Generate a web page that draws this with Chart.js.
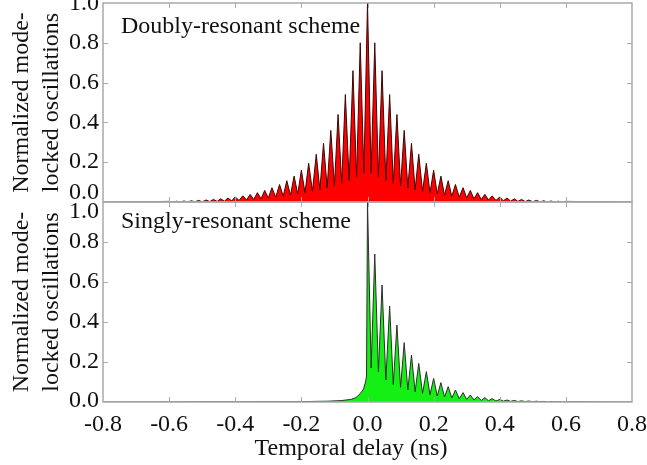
<!DOCTYPE html>
<html>
<head>
<meta charset="utf-8">
<script src="https://cdn.jsdelivr.net/npm/chart.js@4.4.0/dist/chart.umd.min.js"></script>
<style>
  html, body { margin: 0; padding: 0; background: #fff; }
  #wrap { position: relative; width: 647px; height: 465px; }
  .panel { position: absolute; left: 0; width: 647px; }
  #top { top: 0; height: 204px; }
  #bottom { top: 200px; height: 265px; }
</style>
</head>
<body>
<div id="wrap">
  <div class="panel" id="top"><canvas id="doubly"></canvas></div>
  <div class="panel" id="bottom"><canvas id="singly"></canvas></div>
</div>
<script>
// axis ticks
const delayTicks = [-0.8, -0.6, -0.4, -0.2, 0.0, 0.2, 0.4, 0.6, 0.8];
const levelTicks = [0.0, 0.2, 0.4, 0.6, 0.8, 1.0];

// pulse positions (ns)
const pulseDelay = [-0.599, -0.577, -0.555, -0.533, -0.511, -0.488, -0.466, -0.444, -0.422, -0.400,
  -0.377, -0.355, -0.333, -0.311, -0.289, -0.266, -0.244, -0.222, -0.200, -0.178,
  -0.155, -0.133, -0.111, -0.089, -0.067, -0.044, -0.022, 0.000,
  0.022, 0.044, 0.067, 0.089, 0.111, 0.133, 0.155, 0.178, 0.200, 0.222,
  0.244, 0.266, 0.289, 0.311, 0.333, 0.355, 0.377, 0.400, 0.422, 0.444,
  0.466, 0.488, 0.511, 0.533, 0.555, 0.577, 0.599];

// doubly-resonant: peak heights and the dips between neighbouring peaks
const doublyPeak = [0.003, 0.004, 0.005, 0.006, 0.008, 0.010, 0.013, 0.016, 0.020, 0.025,
  0.031, 0.038, 0.047, 0.058, 0.072, 0.088, 0.107, 0.130, 0.160, 0.195,
  0.240, 0.295, 0.360, 0.440, 0.540, 0.660, 0.800, 1.000,
  0.800, 0.660, 0.540, 0.440, 0.360, 0.295, 0.240, 0.195, 0.160, 0.130,
  0.107, 0.088, 0.072, 0.058, 0.047, 0.038, 0.031, 0.025, 0.020, 0.016,
  0.013, 0.010, 0.008, 0.006, 0.005, 0.004, 0.003];
const doublyDip = [0, 0, 0, 0.001, 0.001, 0.002, 0.003, 0.004, 0.006, 0.008,
  0.010, 0.013, 0.016, 0.020, 0.024, 0.029, 0.034, 0.040, 0.046, 0.054,
  0.062, 0.071, 0.082, 0.094, 0.108, 0.125, 0.145,
  0.145, 0.125, 0.108, 0.094, 0.082, 0.071, 0.062, 0.054, 0.046, 0.040,
  0.034, 0.029, 0.024, 0.020, 0.016, 0.013, 0.010, 0.008, 0.006, 0.004,
  0.003, 0.002, 0.001, 0.001, 0, 0, 0];

// singly-resonant: slow rise before zero, then a one-sided comb
const riseDelay = [-0.8, -0.4, -0.2, -0.12, -0.08, -0.05, -0.035, -0.022, -0.012, -0.006, -0.003];
const riseLevel = [0, 0.001, 0.002, 0.004, 0.007, 0.013, 0.022, 0.042, 0.065, 0.100, 0.130];
const singlyPeak = [1.000, 0.740, 0.585, 0.480, 0.385, 0.297, 0.235, 0.193, 0.152, 0.118,
  0.097, 0.077, 0.060, 0.047, 0.035, 0.027, 0.022, 0.017, 0.013, 0.010,
  0.008, 0.006, 0.005, 0.004, 0.003, 0.002, 0.002, 0.001];
const singlyDip = [0.170, 0.150, 0.110, 0.087, 0.073, 0.060, 0.051, 0.043, 0.036, 0.030,
  0.025, 0.020, 0.016, 0.013, 0.010, 0.008, 0.006, 0.005, 0.004, 0.003,
  0.002, 0.002, 0.001, 0.001, 0, 0, 0];

const FONT = '"Liberation Serif", "Times New Roman", serif';

// peak, dip, peak, dip ... (dip sits half way between two pulses)
function comb(delays, peaks, dips) {
  const pts = [];
  delays.forEach((d, i) => {
    pts.push({ x: d, y: peaks[i] });
    if (i < dips.length) pts.push({ x: (d + delays[i + 1]) / 2, y: dips[i] });
  });
  return pts;
}

const doublyData = [{ x: -0.8, y: 0 }, ...comb(pulseDelay, doublyPeak, doublyDip), { x: 0.8, y: 0 }];
const singlyData = [
  ...riseDelay.map((d, i) => ({ x: d, y: riseLevel[i] })),
  ...comb(pulseDelay.slice(27), singlyPeak, singlyDip),
  { x: 0.8, y: 0 }
];

// box, inward ticks, y labels, panel caption and x title
const framePlugin = {
  id: 'frame',
  afterDraw(chart, args, opts) {
    const { ctx, chartArea: a } = chart;
    const x = chart.scales.x, y = chart.scales.y;
    ctx.save();
    ctx.strokeStyle = '#a9a9a9';
    ctx.lineWidth = 1;
    ctx.beginPath();
    delayTicks.slice(1, -1).forEach(v => {
      const px = Math.round(x.getPixelForValue(v)) + 0.5;
      ctx.moveTo(px, a.top); ctx.lineTo(px, a.top + 5);
      ctx.moveTo(px, a.bottom); ctx.lineTo(px, a.bottom - 5);
    });
    levelTicks.slice(1, -1).forEach(v => {
      const py = Math.round(y.getPixelForValue(v)) + 0.5;
      ctx.moveTo(a.left, py); ctx.lineTo(a.left + 5, py);
      ctx.moveTo(a.right, py); ctx.lineTo(a.right - 5, py);
    });
    ctx.stroke();
    ctx.lineWidth = 1.5;
    ctx.strokeRect(a.left, a.top, a.right - a.left, a.bottom - a.top);

    ctx.fillStyle = '#111';
    ctx.font = '24px ' + FONT;
    ctx.textAlign = 'right';
    ctx.textBaseline = 'middle';
    levelTicks.forEach(v => {
      const shift = opts.labelShift[v.toFixed(1)] || 0;
      ctx.fillText(v.toFixed(1), a.left - 4, y.getPixelForValue(v) + shift);
    });

    ctx.font = '24px ' + FONT;
    ctx.textAlign = 'left';
    ctx.textBaseline = 'alphabetic';
    ctx.fillText(opts.caption, a.left + 18, a.top + opts.captionY);

    if (opts.xTitle) {
      ctx.textAlign = 'center';
      ctx.fillText(opts.xTitle, x.getPixelForValue(-0.05), a.bottom + 53);
    }
    ctx.restore();
  }
};

function makeChart(id, data, fillColor, lineColor, cfg) {
  return new Chart(document.getElementById(id), {
    type: 'line',
    data: {
      datasets: [{
        data: data,
        borderColor: lineColor,
        backgroundColor: fillColor,
        borderWidth: 1,
        fill: 'origin',
        pointRadius: 0,
        tension: 0
      }]
    },
    options: {
      responsive: true,
      maintainAspectRatio: false,
      animation: false,
      events: [],
      layout: { padding: cfg.padding },
      plugins: {
        legend: { display: false },
        tooltip: { enabled: false },
        frame: {
          caption: cfg.caption,
          captionY: cfg.captionY,
          labelShift: cfg.labelShift,
          xTitle: cfg.showX ? 'Temporal delay (ns)' : null
        }
      },
      scales: {
        x: {
          type: 'linear',
          min: -0.8,
          max: 0.8,
          display: cfg.showX,
          afterBuildTicks: s => { s.ticks = delayTicks.map(v => ({ value: v })); },
          afterFit: s => {
            if (cfg.showX) s.height = 63;
            s.paddingLeft = 0;
            s.paddingRight = 0;
          },
          grid: { display: false, drawTicks: false },
          border: { display: false },
          ticks: {
            padding: 8,
            color: '#111',
            font: { family: FONT, size: 24 },
            maxRotation: 0,
            autoSkip: false,
            callback: v => v.toFixed(1)
          }
        },
        y: {
          min: 0,
          max: 1,
          afterBuildTicks: s => { s.ticks = levelTicks.map(v => ({ value: v })); },
          afterFit: s => { s.width = 103; },
          grid: { display: false, drawTicks: false },
          border: { display: false },
          ticks: { display: false },
          title: {
            display: true,
            text: ['Normalized mode-', 'locked oscillations'],
            color: '#111',
            font: { family: FONT, size: 24, lineHeight: 1.25 },
            padding: { top: 7, bottom: 0 }
          }
        }
      }
    },
    plugins: [framePlugin]
  });
}

makeChart('doubly', doublyData, '#ff0000', '#3a0606', {
  showX: false,
  padding: { left: 0, right: 15, top: 3, bottom: 2 },
  caption: 'Doubly-resonant scheme',
  captionY: 30,
  labelShift: { '0.0': -9, '1.0': 1 }
});

makeChart('singly', singlyData, '#14f014', '#2e2e2e', {
  showX: true,
  padding: { left: 0, right: 15, top: 2, bottom: 0 },
  caption: 'Singly-resonant scheme',
  captionY: 26,
  labelShift: { '1.0': 10, '0.0': -1 }
});
</script>
</body>
</html>
